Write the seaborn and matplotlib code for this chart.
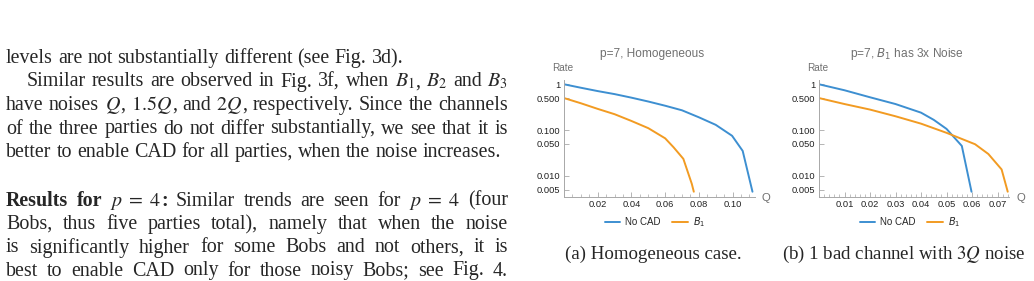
import numpy as np
import pandas as pd
import matplotlib
matplotlib.use('Agg')
import matplotlib.pyplot as plt
import seaborn as sns
from matplotlib.ticker import MultipleLocator, NullLocator
from matplotlib.lines import Line2D

# values (log-scale rate vs noise Q)
q_a_nocad = [0, 0.01, 0.02, 0.03, 0.04, 0.05, 0.06, 0.07, 0.08, 0.09, 0.0997, 0.106, 0.1118]
r_a_nocad = [1.0, 0.84, 0.71, 0.61, 0.51, 0.42, 0.34, 0.27, 0.19, 0.13, 0.075, 0.035, 0.0045]
q_a_b1 = [0, 0.01, 0.02, 0.03, 0.04, 0.05, 0.06, 0.065, 0.0708, 0.0758, 0.077]
r_a_b1 = [0.5, 0.385, 0.29, 0.222, 0.158, 0.11, 0.066, 0.042, 0.0235, 0.0067, 0.0045]

q_b_nocad = [0, 0.01, 0.02, 0.03, 0.04, 0.045, 0.05, 0.056, 0.0598]
r_b_nocad = [1.0, 0.74, 0.52, 0.37, 0.24, 0.167, 0.106, 0.045, 0.0045]
q_b_b1 = [0, 0.01, 0.02, 0.03, 0.04, 0.05, 0.0612, 0.0664, 0.0716, 0.074]
r_b_b1 = [0.5, 0.37, 0.28, 0.2, 0.138, 0.087, 0.049, 0.03, 0.0138, 0.0045]

series_names = ['No CAD', '$B_1$']
y_ticks = [0.005, 0.01, 0.05, 0.1, 0.5, 1]
y_labels = ['0.005', '0.010', '0.050', '0.100', '0.500', '1']
x_ticks_a = [0.02, 0.04, 0.06, 0.08, 0.10]
x_labels_a = ['0.02', '0.04', '0.06', '0.08', '0.10']
x_ticks_b = [0.01, 0.02, 0.03, 0.04, 0.05, 0.06, 0.07]
x_labels_b = ['0.01', '0.02', '0.03', '0.04', '0.05', '0.06', '0.07']

titles = ['p=7, Homogeneous', 'p=7, $B_1$ has 3x Noise']
captions = ['(a) Homogeneous case.', '(b) 1 bad channel with $3Q$ noise']

# body text, one entry per printed line; each word is a list of (text, bold) pieces
body_lines = [
    [[('levels', 0)], [('are', 0)], [('not', 0)], [('substantially', 0)], [('different', 0)],
     [('(see', 0)], [('Fig.', 0)], [('3d).', 0)]],
    [[('Similar', 0)], [('results', 0)], [('are', 0)], [('observed', 0)], [('in', 0)], [('Fig.', 0)],
     [('3f,', 0)], [('when', 0)], [('$B_1$', 0), (',', 0)], [('$B_2$', 0)], [('and', 0)], [('$B_3$', 0)]],
    [[('have', 0)], [('noises', 0)], [('$Q$', 0), (',', 0)], [('$1.5Q$', 0), (',', 0)], [('and', 0)],
     [('$2Q$', 0), (',', 0)], [('respectively.', 0)], [('Since', 0)], [('the', 0)], [('channels', 0)]],
    [[('of', 0)], [('the', 0)], [('three', 0)], [('parties', 0)], [('do', 0)], [('not', 0)], [('differ', 0)],
     [('substantially,', 0)], [('we', 0)], [('see', 0)], [('that', 0)], [('it', 0)], [('is', 0)]],
    [[('better', 0)], [('to', 0)], [('enable', 0)], [('CAD', 0)], [('for', 0)], [('all', 0)], [('parties,', 0)],
     [('when', 0)], [('the', 0)], [('noise', 0)], [('increases.', 0)]],
    [[('Results', 1)], [('for', 1)], [('$p\\;=\\;4$', 0), (':', 1)], [('Similar', 0)], [('trends', 0)],
     [('are', 0)], [('seen', 0)], [('for', 0)], [('$p\\;=\\;4$', 0)], [('(four', 0)]],
    [[('Bobs,', 0)], [('thus', 0)], [('five', 0)], [('parties', 0)], [('total),', 0)], [('namely', 0)],
     [('that', 0)], [('when', 0)], [('the', 0)], [('noise', 0)]],
    [[('is', 0)], [('significantly', 0)], [('higher', 0)], [('for', 0)], [('some', 0)], [('Bobs', 0)],
     [('and', 0)], [('not', 0)], [('others,', 0)], [('it', 0)], [('is', 0)]],
    [[('best', 0)], [('to', 0)], [('enable', 0)], [('CAD', 0)], [('only', 0)], [('for', 0)], [('those', 0)],
     [('noisy', 0)], [('Bobs;', 0)], [('see', 0)], [('Fig.', 0)], [('4.', 0)]],
]
line_baselines = [63, 86.5, 110, 133.5, 157, 205.5, 229, 252.5, 275.5]
line_indent = [0, 1, 0, 0, 0, 0, 0, 0, 0]
line_justify = [0, 1, 1, 1, 0, 1, 1, 1, 1]

sns.set_style('ticks')
plt.rcParams['font.family'] = ['Liberation Sans', 'DejaVu Sans']
plt.rcParams['mathtext.fontset'] = 'dejavusans'

W, H = 1034, 281
fig = plt.figure(figsize=(W / 100, H / 100), dpi=100)
fig.patch.set_facecolor('white')

BLUE = '#3d8fd1'
ORANGE = '#f29b22'
AXC = '#a8a8a8'
GREY = '#707070'
BODY_SIZE = 14.4

# axes boxes in pixels: left, bottom(from top), width, height
y_bottom_px = 196.7
y_height_px = 116.7
panels = [
    dict(left=564, width=191, xmax=0.1133, q1=q_a_nocad, r1=r_a_nocad, q2=q_a_b1, r2=r_a_b1,
         xt=x_ticks_a, xl=x_labels_a, minor=0.005, title_x=652, leg_x=655, cap_x=653, q_x=766),
    dict(left=819, width=190, xmax=0.0745, q1=q_b_nocad, r1=r_b_nocad, q2=q_b_b1, r2=r_b_b1,
         xt=x_ticks_b, xl=x_labels_b, minor=0.002, title_x=907, leg_x=910, cap_x=904, q_x=1021),
]

for i, p in enumerate(panels):
    ax = fig.add_axes([p['left'] / W, (H - y_bottom_px) / H, p['width'] / W, y_height_px / H])
    df = pd.concat([
        pd.DataFrame({'Q': p['q1'], 'Rate': p['r1'], 'series': series_names[0]}),
        pd.DataFrame({'Q': p['q2'], 'Rate': p['r2'], 'series': series_names[1]}),
    ])
    sns.lineplot(data=df, x='Q', y='Rate', hue='series', hue_order=series_names,
                 palette=[BLUE, ORANGE], linewidth=1.4, estimator=None, legend=False, ax=ax)
    ax.set_yscale('log')
    ax.set_xlim(0, p['xmax'])
    ax.set_ylim(0.0035, 1.24)
    ax.set_yticks(y_ticks)
    ax.set_yticklabels(y_labels)
    ax.yaxis.set_minor_locator(NullLocator())
    ax.set_xticks(p['xt'])
    ax.set_xticklabels(p['xl'])
    ax.xaxis.set_minor_locator(MultipleLocator(p['minor']))
    ax.set_xlabel('')
    ax.set_ylabel('')
    ax.tick_params(which='major', direction='in', length=3.5, width=0.6, color=AXC,
                   labelsize=6.7, labelcolor='#222222', pad=2.5)
    ax.tick_params(which='minor', direction='in', length=2, width=0.5, color=AXC)
    sns.despine(ax=ax)
    for s in ['left', 'bottom']:
        ax.spines[s].set_color(AXC)
        ax.spines[s].set_linewidth(0.7)
    ax.patch.set_alpha(0)

    fig.text(p['title_x'] / W, 1 - 54 / H, titles[i], ha='center', va='center',
             fontsize=8.6, color=GREY)
    fig.text((p['left'] - 1) / W, 1 - 68 / H, 'Rate', ha='center', va='center',
             fontsize=7.2, color=GREY)
    fig.text(p['q_x'] / W, 1 - 198 / H, 'Q', ha='center', va='center', fontsize=8.2, color=GREY)

    handles = [Line2D([], [], color=BLUE, lw=1.4), Line2D([], [], color=ORANGE, lw=1.4)]
    fig.legend(handles, series_names, loc='center', bbox_to_anchor=(p['leg_x'] / W, 1 - 222 / H),
               ncol=2, frameon=False, fontsize=7, handlelength=1.6, handletextpad=0.5,
               columnspacing=1.2, borderpad=0)

    fig.text(p['cap_x'] / W, 1 - 254 / H, captions[i], ha='center', va='center', fontsize=13.6,
             family='Liberation Serif', math_fontfamily='stix')

# justified body text column on the left
renderer = fig.canvas.get_renderer()
X0, X1 = 6, 508
space = BODY_SIZE * 100 / 72 * 0.25
for words, base, ind, just in zip(body_lines, line_baselines, line_indent, line_justify):
    pieces = []
    widths = []
    for word in words:
        parts = []
        wsum = 0
        for txt, bold in word:
            t = fig.text(0, 1 - base / H, txt, fontsize=BODY_SIZE, family='Liberation Serif',
                         weight='bold' if bold else 'normal', math_fontfamily='stix', va='baseline')
            w = t.get_window_extent(renderer).width
            parts.append((t, w))
            wsum += w
        pieces.append(parts)
        widths.append(wsum)
    x0 = X0 + 21 * ind
    if just:
        gap = (X1 - x0 - sum(widths)) / (len(words) - 1)
    else:
        gap = space
    x = x0
    for parts, wsum in zip(pieces, widths):
        xx = x
        for t, w in parts:
            t.set_x(xx / W)
            xx += w
        x += wsum + gap

fig.savefig('out.png', dpi=100, facecolor='white')
